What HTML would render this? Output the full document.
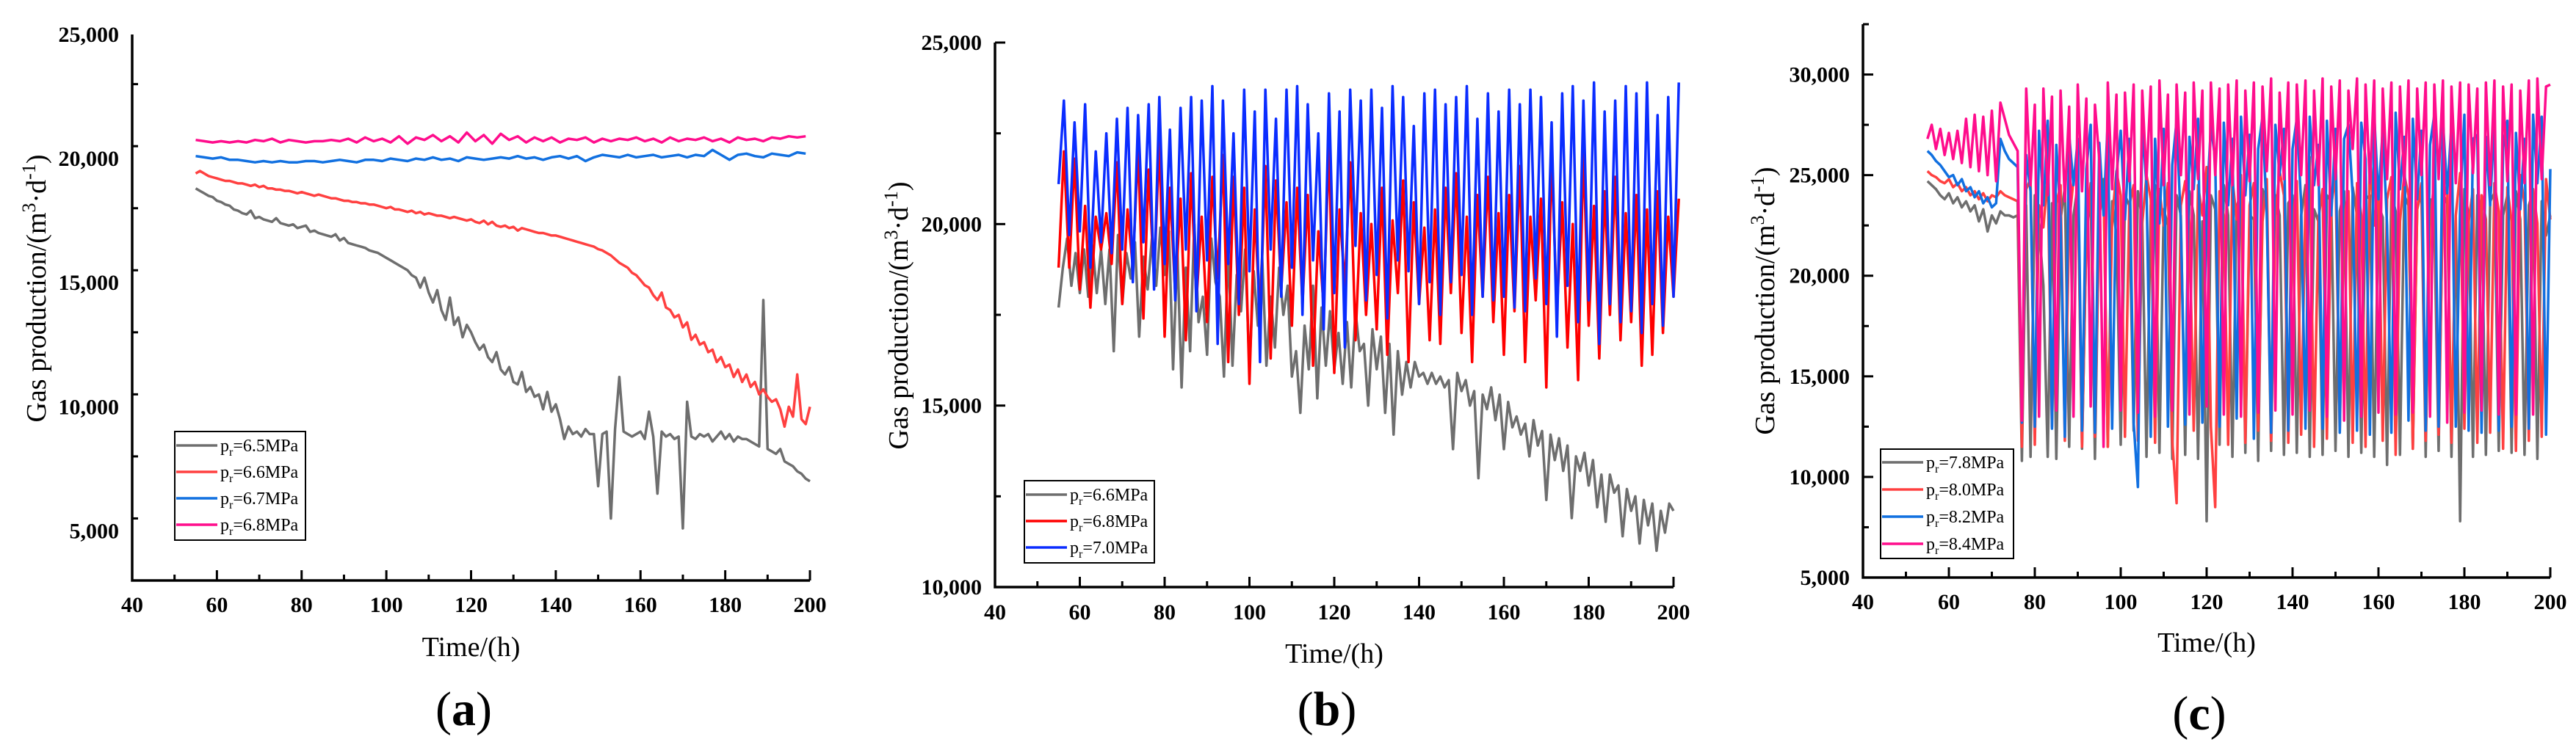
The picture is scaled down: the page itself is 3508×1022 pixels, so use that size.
<!DOCTYPE html>
<html><head><meta charset="utf-8"><style>
html,body{margin:0;padding:0;background:#fff;}
svg{display:block;}
text{font-family:"Liberation Serif",serif;}
</style></head><body>
<svg id="fig" width="3508" height="1022" viewBox="0 0 3508 1022" xmlns="http://www.w3.org/2000/svg"></svg>
<script>
// ---------- Panel (a) data ----------
const aGray=[18800,18700,18600,18500,18450,18300,18250,18150,18100,17950,17900,17800,17750,17900,17600,17650,17550,17500,17450,17600,17400,17350,17300,17350,17200,17250,17300,17050,17100,17000,16950,16900,16850,16950,16700,16800,16600,16550,16500,16450,16400,16300,16250,16200,16100,16000,15900,15800,15700,15600,15500,15300,15200,14800,15200,14600,14200,14700,13900,13500,14400,13300,13600,12800,13300,13000,12600,12300,12500,12000,11800,12200,11500,11300,11600,11000,10900,11400,10600,10800,10400,10500,9900,10600,9800,10100,9500,8700,9200,8900,9000,8800,9100,8900,8900,6800,8900,9000,5500,9100,11200,9000,8900,8800,8900,9000,8700,9800,8800,6500,9000,8800,8900,8700,8800,5100,10200,8800,8700,8900,8800,8900,8600,8800,9000,8700,8900,8600,8800,8700,8700,8600,8500,8400,14300,8300,8200,8100,8300,7800,7700,7600,7400,7300,7100,7000];
const aRed=[19400,19500,19400,19300,19250,19200,19150,19100,19100,19050,19000,19000,18950,18900,18950,18850,18900,18800,18800,18750,18750,18700,18700,18650,18600,18650,18600,18550,18500,18550,18500,18450,18400,18400,18350,18300,18300,18250,18250,18200,18200,18150,18150,18100,18050,18000,18050,17950,17950,17900,17850,17900,17800,17850,17750,17800,17750,17700,17700,17650,17600,17650,17600,17550,17500,17550,17450,17400,17500,17350,17450,17300,17250,17300,17200,17250,17100,17200,17150,17100,17050,17000,17000,16950,16900,16900,16850,16800,16750,16700,16650,16600,16550,16500,16450,16350,16300,16200,16100,15950,15800,15700,15600,15400,15300,15100,14900,14800,14500,14300,14600,14000,13900,13600,13700,13200,13400,12700,12900,12500,12600,12200,12300,11800,12000,11600,11700,11200,11500,11000,11300,10800,11000,10500,10700,10400,10200,10300,9900,9200,10000,9600,11300,9500,9300,10000];
const aBlue=[20100,20050,20000,20050,19950,19950,19900,19850,19900,19850,19900,19850,19850,19900,19900,19850,19900,19950,19900,19850,19950,19950,19900,20000,19950,19900,20000,19950,20050,19950,20000,19900,20050,20000,19950,20000,20050,20000,20100,20000,20050,19950,20050,20100,20000,20100,19900,20050,20150,20100,20050,20150,20050,20100,20150,20050,20100,20150,20050,20150,20100,20350,20150,19950,20150,20200,20100,20050,20200,20150,20100,20250,20200];
const aPink=[20750,20700,20650,20700,20650,20700,20650,20750,20700,20800,20650,20750,20700,20650,20700,20700,20750,20700,20800,20650,20850,20700,20800,20650,20900,20600,20850,20750,20950,20700,20900,20650,21050,20700,20950,20600,21000,20750,20900,20650,20850,20700,20850,20650,20800,20750,20850,20650,20800,20700,20800,20750,20850,20700,20800,20650,20850,20700,20800,20750,20850,20700,20800,20650,20850,20750,20800,20700,20850,20800,20900,20850,20900];
// ---------- Panel (b) data ----------
const bBlueHi=[23400,22800,23300,22000,22500,22900,23200,23000,23300,23500,22600,23200,23500,23400,23800,23400,22500,23700,23100,23700,22900,23700,23800,23300,22500,23600,23100,23700,23400,23700,23200,23800,23500,22700,23600,23700,23300,23500,23800,22900,23600,23100,23700,23300,23700,23500,22800,23600,23800,23400,23900,23100,23400,23800,23600,23900,23000,23500,23900];
const bBlueLo=[21100,19700,19800,18800,19500,19200,19300,18400,19500,18200,18900,17900,19300,17600,19000,16700,18900,17800,18700,16200,19300,18000,18800,17500,19000,17100,18100,16600,19400,17900,18600,17400,19000,18700,17800,18400,17500,18400,18600,17500,18000,17900,18000,17700,17600,18500,17800,16900,18300,17300,17900,16700,17800,17300,17600,17000,17800,17200,18000];
const bRedHi=[22000,21800,20500,20200,20300,21700,20400,22100,21500,22300,21000,20700,21400,20200,21300,21900,21300,21000,20400,21600,21200,20600,21000,20800,19800,22200,20400,21700,20300,20000,21000,20100,21200,20600,19900,20400,21000,21400,20200,20800,21300,20300,20800,21600,20200,20700,21900,20600,20000,22100,20500,20900,21300,20300,20800,20400,20900,20200,20700];
const bRedLo=[18800,18800,18200,17700,19300,18900,17800,18800,17400,18500,16900,18100,16800,17900,17300,18500,16200,17500,15600,17400,16300,18200,17200,17800,16100,17700,15900,18300,16800,17500,17100,16400,18100,16200,17800,16800,16700,18100,17000,16200,18000,17300,16400,17600,16200,17900,15500,17600,16600,15700,17200,16300,17500,16800,17300,16100,16400,17000,18000];
const bGray=[17700,18800,19600,18300,19200,18100,19300,18000,19400,18100,19300,17800,19300,16500,19700,17800,19200,18500,19500,16900,19100,18200,19600,18300,19900,18600,19800,16000,19300,15500,18800,16500,20000,17300,18000,16400,19600,18400,18000,15800,19300,16100,18600,17600,19300,16000,18700,17200,19100,16100,18000,16600,18800,17500,18300,15800,16500,14800,17200,16000,18300,15200,17700,16100,17600,16000,17000,15600,17300,15500,17600,16500,16700,15000,17100,16000,16900,14800,16700,14200,16500,15300,16200,15500,16200,15800,15900,15600,15900,15600,15800,15500,15700,13800,15900,15400,15700,15000,15400,13000,15300,14900,15500,14600,15300,13800,15100,14400,14700,14200,14500,13600,14600,13900,14300,12400,14200,13500,14100,13200,13900,11900,13600,13200,13700,12800,13500,12200,13100,11800,13100,12600,12800,11400,12700,12100,12500,11200,12400,11700,12300,11000,12100,11500,12300,12100];
// ---------- Panel (c) data ----------
const cGray=[24700,24500,24300,24000,23800,24100,23600,23900,23400,23700,23200,23500,22700,23300,22200,23000,22600,23200,23000,23000,22900,23000,10800,23500,11000,24000,22500,19500,11000,23600,10900,22800,24400,11500,23000,24500,11400,22000,24000,10900,23500,24800,11500,23700,22000,11600,24000,23500,12300,24200,22800,11000,23500,24500,11200,23300,22500,10900,24000,23000,11100,24200,23000,10900,22700,7800,24000,23300,11600,24500,23000,11000,23400,24200,11200,23000,22800,10800,24300,23500,11300,24000,23000,11100,23600,24000,11200,23000,24500,11000,23300,22700,11100,24000,23700,11300,23200,24200,11000,24400,23000,11200,23800,24000,11000,23500,22900,10600,24100,23200,11100,24000,23500,11400,23300,24200,11000,23800,22500,11300,24100,23600,11000,22900,7800,24300,23000,11000,24000,23300,11100,23700,24100,11300,23000,24000,11200,24200,22800,11100,23500,24200,10900,23700,22000,23000];
const cRed=[25200,25000,24900,24700,24600,24800,24400,24600,24200,24400,24000,24200,23800,24100,23700,24000,23900,24200,24000,23900,23800,23700,11500,24300,24800,11600,23500,22400,25000,12500,23600,24500,11800,22600,24800,25200,11500,22000,24600,12000,23000,24300,11500,22800,25200,24000,12000,23500,24500,11800,22600,25000,23800,11700,24300,22500,24600,11800,8700,23500,24700,22600,12300,24500,23000,25400,12500,8500,24200,23000,11600,24800,22800,25000,11700,23500,24600,12300,22700,24800,11800,23000,25200,24000,11700,22600,24700,12100,23800,25900,11500,22800,24300,11900,23500,25000,12300,22800,24200,11700,24600,23000,11500,26000,22500,24300,11800,23800,24900,11100,22700,25000,24000,11400,23300,24600,11800,22500,24800,12100,23700,24500,11700,23000,25100,12400,22700,24300,11700,24000,22800,12200,24600,23200,11400,24400,22700,11300,25000,23600,11800,24300,22600,12000,24800,22800];
const cBlue=[26200,26000,25700,25500,25200,24900,25000,24500,24800,24200,24400,23900,24200,23600,23900,23400,23600,26800,26200,25800,25600,25400,12700,26000,24200,12500,27200,23500,27700,12400,26500,22800,12000,27000,24500,26800,12300,25300,27500,12200,26600,23000,27700,12400,25000,27200,22800,26800,12700,9500,27500,24500,12000,26800,22600,27300,12500,25500,27700,22500,12600,26900,24300,27800,12700,23500,27400,25800,12500,27600,23500,26800,12900,27900,24000,27000,11900,26300,27900,23000,12200,27500,25000,27300,12300,26300,27800,23600,12400,27900,24500,26500,12400,27700,23000,27300,12200,26800,27500,24000,12300,27600,25800,12100,28000,23800,27300,22500,12200,28100,24300,26900,12800,27800,23800,27200,12300,26500,28000,12500,27700,24100,27500,12500,23400,28000,12300,26800,27000,12200,26900,23500,27800,12300,26400,27700,12500,27100,23300,26800,12400,28000,24600,27900,12100,25300];
const cPink=[26800,27500,26300,27300,26000,27100,25800,27200,25600,27800,25400,28000,25200,27900,25000,28200,24700,28600,27800,27000,26600,26200,12800,29300,24500,28500,13000,29300,24000,28900,13300,29200,23700,28400,13000,29500,24200,28800,13500,28500,25800,11500,29600,24300,29000,13300,29100,24700,29500,13200,29200,24800,29400,13000,29700,24500,29000,13300,29500,25000,29100,13100,29600,24800,29200,13500,29600,25000,29300,13100,29500,24500,29700,13000,29200,24700,29600,13200,29400,25200,29800,13300,29100,24800,29600,13100,29500,25000,29700,13300,29200,24500,29800,13000,29400,24800,29700,12800,29200,26300,29800,13000,29500,24600,29700,13200,29300,24800,29600,13100,29400,24500,29700,13200,29300,25000,29600,13000,29500,24800,29700,12700,29400,24600,29600,13200,29500,25100,29300,13300,29600,24500,29700,13100,29400,24700,29500,13100,29200,24600,29700,13100,29800,24800,29400,29500];
const xTicks=[40,60,80,100,120,140,160,180,200];
const aYTicks=[5000,10000,15000,20000,25000];
const bYTicks=[10000,15000,20000,25000];
const cYTicks=[5000,10000,15000,20000,25000,30000];
const aLegend=["6.5MPa","6.6MPa","6.7MPa","6.8MPa"];
const bLegend=["6.6MPa","6.8MPa","7.0MPa"];
const cLegend=["7.8MPa","8.0MPa","8.2MPa","8.4MPa"];

const NS="http://www.w3.org/2000/svg";
const svg=document.getElementById('fig');
function mk(tag,attrs,parent){const e=document.createElementNS(NS,tag);for(const k in attrs)e.setAttribute(k,attrs[k]);(parent||svg).appendChild(e);return e;}
function fmt(v){return v.toLocaleString('en-US');}
function interleave(lo,hi){const r=[];const n=Math.max(lo.length,hi.length);for(let i=0;i<n;i++){if(i<lo.length)r.push(lo[i]);if(i<hi.length)r.push(hi[i]);}return r;}

function panel(cfg){
  const g=mk('g',{});
  
  
  const sx=v=>cfg.x0+(v-40)/(160)*(cfg.x1-cfg.x0);
  const sy=v=>cfg.yb-(v-cfg.ymin)/(cfg.ymax-cfg.ymin)*(cfg.yb-cfg.yt);
  cfg.series.forEach(s=>{
    let d='';
    s.vals.forEach((v,i)=>{d+=(i?'L':'M')+sx(55+i*s.step).toFixed(1)+','+sy(v).toFixed(1);});
    const p=mk('path',{d:d,fill:'none',stroke:s.color,'stroke-width':3.5,'stroke-linejoin':'round'},g);
    
    
  });
  const ax=mk('path',{d:`M${cfg.x0},${cfg.yt}L${cfg.x0},${cfg.yb}L${cfg.x1},${cfg.yb}`,fill:'none',stroke:'#000','stroke-width':3.5},g);
  
  
  for(let v=40;v<=200;v+=10){const maj=v%20===0;mk('line',{x1:sx(v),x2:sx(v),y1:cfg.yb,y2:cfg.yb-(maj?14:8),stroke:'#000','stroke-width':3},g);}
  xTicks.forEach(v=>{const t=mk('text',{x:sx(v),y:cfg.xly,'text-anchor':'middle','font-size':30,'font-weight':'bold'},g);t.textContent=v;
    
    });
  for(let v=cfg.ymin;v<=cfg.ymax+1;v+=2500){if(sy(v)<cfg.yt-1)continue;const maj=v%5000===0;mk('line',{x1:cfg.x0,x2:cfg.x0+(maj?14:8),y1:sy(v),y2:sy(v),stroke:'#000','stroke-width':3},g);}
  cfg.yTicks.forEach(v=>{const t=mk('text',{x:cfg.x0-18,y:sy(v)+10,'text-anchor':'end','font-size':30,'font-weight':'bold'},g);t.textContent=fmt(v);
    
    });
  const xt=mk('text',{x:(cfg.x0+cfg.x1)/2,y:cfg.xty,'text-anchor':'middle','font-size':38},g);xt.textContent='Time/(h)';
  
  
  const yt=mk('text',{transform:`translate(${cfg.ytx},${cfg.yty}) rotate(-90)`,'text-anchor':'middle','font-size':38},g);
  
  
  yt.innerHTML='Gas production/(m<tspan dy="-14" font-size="26">3</tspan><tspan dy="14">·d</tspan><tspan dy="-14" font-size="26">-1</tspan><tspan dy="14">)</tspan>';
  const lg=mk('g',{},g);
  
  
  mk('rect',{x:cfg.lx0,y:cfg.ly0,width:cfg.lx1-cfg.lx0,height:cfg.ly1-cfg.ly0,fill:'#fff',stroke:'#000','stroke-width':2},lg);
  cfg.series.forEach((s,i)=>{
    const y=cfg.ly0+cfg.lfirst+i*cfg.lstep;
    const e=mk('g',{},lg);
    
    
    mk('line',{x1:cfg.lx0+2,x2:cfg.lx0+58,y1:y,y2:y,stroke:s.color,'stroke-width':3.5},e);
    const t=mk('text',{x:cfg.lx0+62,y:y+8,'font-size':24},e);
    t.innerHTML='p<tspan dy="6" font-size="16">r</tspan><tspan dy="-6">='+cfg.legend[i]+'</tspan>';
  });
  const pl=mk('text',{x:(cfg.x0+cfg.x1)/2-10,y:cfg.ply,'text-anchor':'middle','font-size':66},g);
  
  
  pl.innerHTML='(<tspan font-weight="bold">'+cfg.label+'</tspan>)';
}

panel({name:'chart-a',x0:180,x1:1103,yt:47,yb:791,ymin:3000,ymax:25000,yTicks:aYTicks,xly:834,xty:894,ytx:62,yty:393,ply:988,label:'a',
  lx0:238,lx1:416,ly0:588,ly1:736,lfirst:19,lstep:36,legend:aLegend,
  series:[{id:'series-6.5MPa',vals:aGray,step:1,color:'#6e6e6e'},{id:'series-6.6MPa',vals:aRed,step:1,color:'#ff4040'},
          {id:'series-6.7MPa',vals:aBlue,step:2,color:'#1170e0'},{id:'series-6.8MPa',vals:aPink,step:2,color:'#ff0d8c'}]});
panel({name:'chart-b',x0:1355,x1:2279,yt:58,yb:800,ymin:10000,ymax:25000,yTicks:bYTicks,xly:844,xty:903,ytx:1236,yty:430,ply:988,label:'b',
  lx0:1395,lx1:1572,ly0:655,ly1:767,lfirst:19,lstep:36,legend:bLegend,
  series:[{id:'series-6.6MPa',vals:bGray,step:1,color:'#6e6e6e'},{id:'series-6.8MPa',vals:interleave(bRedLo,bRedHi),step:1.25,color:'#ff0000'},
          {id:'series-7.0MPa',vals:interleave(bBlueLo,bBlueHi),step:1.25,color:'#0a2cff'}]});
panel({name:'chart-c',x0:2537,x1:3473,yt:33,yb:787,ymin:5000,ymax:32500,yTicks:cYTicks,xly:830,xty:888,ytx:2416,yty:410,ply:994,label:'c',
  lx0:2561,lx1:2742,ly0:612,ly1:761,lfirst:18,lstep:37,legend:cLegend,
  series:[{id:'series-7.8MPa',vals:cGray,step:1,color:'#6e6e6e'},{id:'series-8.0MPa',vals:cRed,step:1,color:'#ff4040'},
          {id:'series-8.2MPa',vals:cBlue,step:1,color:'#1170e0'},{id:'series-8.4MPa',vals:cPink,step:1,color:'#ff0d8c'}]});
</script>
</body></html>
